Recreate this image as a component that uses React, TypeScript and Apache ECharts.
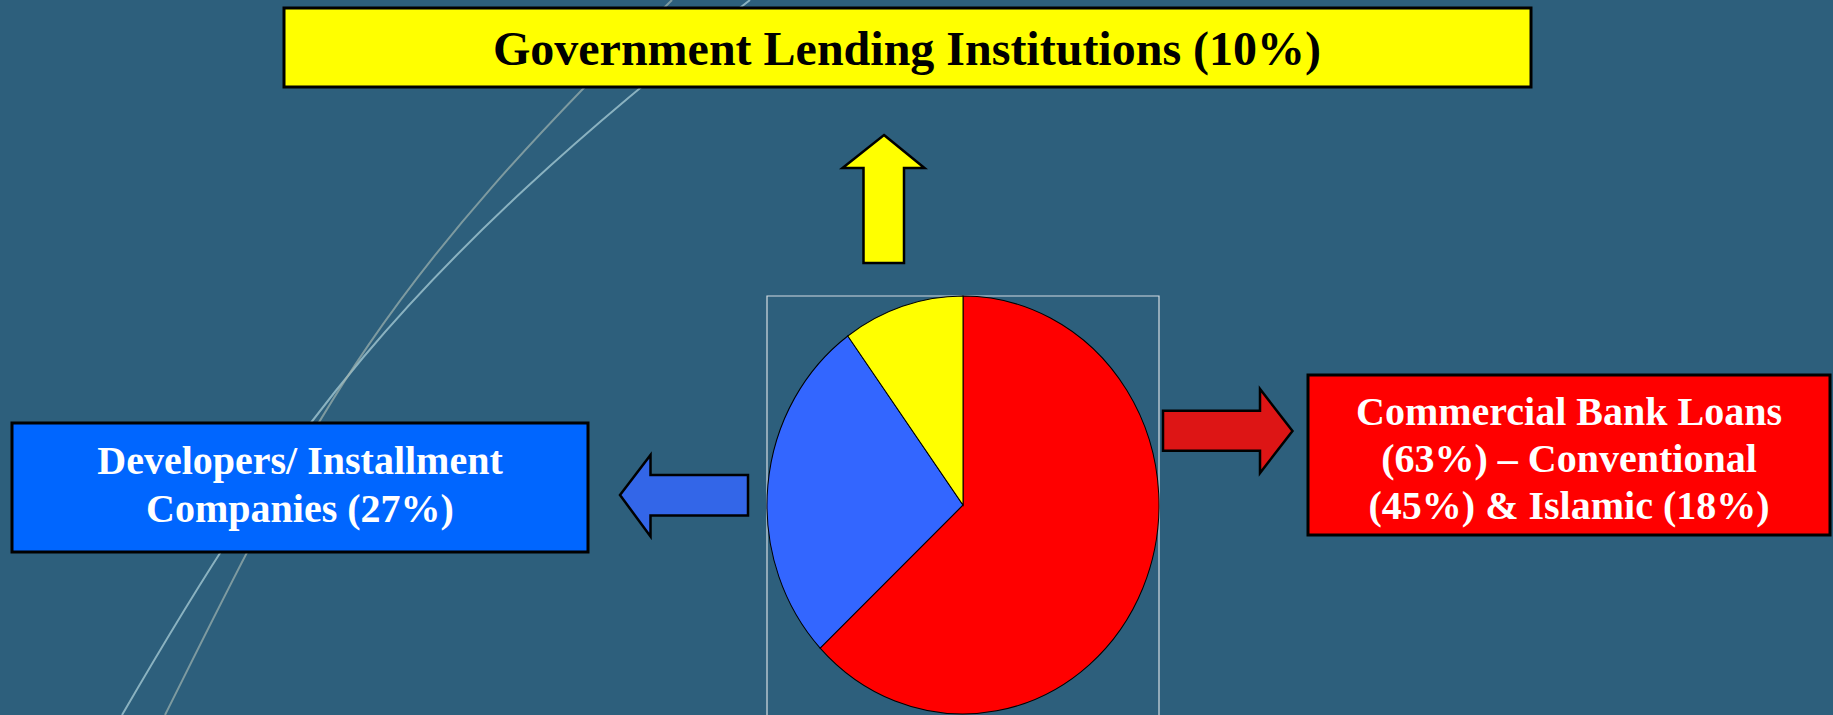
import React, { useEffect, useRef } from "react";
import * as echarts from "echarts";

const categories = ["Commercial Bank Loans", "Developers/ Installment Companies", "Government Lending Institutions"];
const shares = [63, 27, 10];
const sliceColors = ["#FF0000", "#3366FF", "#FFFF00"];
const boxLabels = [
  "Commercial Bank Loans\n(63%) – Conventional\n(45%) & Islamic (18%)",
  "Developers/ Installment\nCompanies (27%)",
  "Government Lending Institutions (10%)",
];

const W = 1833;
const H = 715;
const CX = 963;
const CY = 505;
const RX = 196;
const RY = 209;
const FONT = '"Liberation Serif", "Times New Roman", serif';

export default function App() {
  const ref = useRef<HTMLDivElement>(null);
  useEffect(() => {
    if (!ref.current) return;
    const chart = echarts.init(ref.current, undefined, { renderer: "svg" });
    const total = shares.reduce((a, b) => a + b, 0);
    chart.setOption({
      animation: false,
      backgroundColor: "#2D5F7C",
      series: [
        {
          type: "custom",
          coordinateSystem: "none",
          z: 5,
          data: shares.map((v, i) => ({ name: categories[i], value: v })),
          renderItem: (params: any, api: any) => {
            const i = params.dataIndex;
            let before = 0;
            for (let k = 0; k < i; k++) before += shares[k];
            const v = api.value(0);
            const start = -Math.PI / 2 + (before / total) * 2 * Math.PI;
            const end = start + (v / total) * 2 * Math.PI;
            return {
              type: "sector",
              x: CX,
              y: CY,
              scaleY: RY / RX,
              shape: { cx: 0, cy: 0, r: RX, r0: 0, startAngle: start, endAngle: end, clockwise: true },
              style: { fill: sliceColors[i], stroke: "#000", lineWidth: 1, strokeNoScale: true },
            };
          },
        },
      ],
      graphic: [
        {
          type: "bezierCurve",
          z: 0,
          shape: { x1: 122, y1: 715, cpx1: 281, cpy1: 441, cpx2: 396.5, cpy2: 274, x2: 750, y2: 0 },
          style: { stroke: "rgba(170,205,215,0.75)", lineWidth: 2, fill: null },
        },
        {
          type: "bezierCurve",
          z: 0,
          shape: { x1: 165, y1: 715, cpx1: 312, cpy1: 421, cpx2: 369, cpy2: 294, x2: 672, y2: 0 },
          style: { stroke: "rgba(160,180,175,0.7)", lineWidth: 2, fill: null },
        },
        {
          type: "rect",
          z: 1,
          shape: { x: 767, y: 296, width: 392, height: 430 },
          style: { fill: null, stroke: "#D4DCE2", lineWidth: 1.2 },
        },
        // yellow box
        {
          type: "rect",
          z: 10,
          shape: { x: 284, y: 8, width: 1247, height: 79 },
          style: { fill: "#FFFF00", stroke: "#000", lineWidth: 3 },
        },
        {
          type: "text",
          z: 11,
          x: 907,
          y: 48,
          style: {
            text: boxLabels[2],
            font: `bold 48px ${FONT}`,
            fill: "#000",
            align: "center",
            verticalAlign: "middle",
          },
        },
        // blue box
        {
          type: "rect",
          z: 10,
          shape: { x: 12, y: 423, width: 576, height: 129 },
          style: { fill: "#0066FF", stroke: "#000", lineWidth: 3 },
        },
        {
          type: "text",
          z: 11,
          x: 300,
          y: 484,
          style: {
            text: boxLabels[1],
            font: `bold 40px ${FONT}`,
            lineHeight: 48,
            fill: "#fff",
            align: "center",
            verticalAlign: "middle",
          },
        },
        // red box
        {
          type: "rect",
          z: 10,
          shape: { x: 1308, y: 375, width: 522, height: 160 },
          style: { fill: "#FF0000", stroke: "#000", lineWidth: 3 },
        },
        {
          type: "text",
          z: 11,
          x: 1569,
          y: 458,
          style: {
            text: boxLabels[0],
            font: `bold 40px ${FONT}`,
            lineHeight: 47,
            fill: "#fff",
            align: "center",
            verticalAlign: "middle",
          },
        },
        // arrows
        {
          type: "polygon",
          z: 10,
          shape: { points: [[884, 135], [924.5, 168], [904, 168], [904, 263], [863.5, 263], [863.5, 168], [842.5, 168]] },
          style: { fill: "#FFFF00", stroke: "#000", lineWidth: 2.5 },
        },
        {
          type: "polygon",
          z: 10,
          shape: { points: [[620, 495], [650.5, 455], [650.5, 475], [748, 475], [748, 515.5], [650.5, 515.5], [650.5, 536.5]] },
          style: { fill: "#3366E8", stroke: "#000", lineWidth: 2.5 },
        },
        {
          type: "polygon",
          z: 10,
          shape: { points: [[1292.5, 431], [1260, 389], [1260, 410.7], [1163, 410.7], [1163, 450.7], [1260, 450.7], [1260, 473]] },
          style: { fill: "#DD1515", stroke: "#000", lineWidth: 2.5 },
        },
      ],
    });
    return () => chart.dispose();
  }, []);
  return <div ref={ref} style={{ position: "fixed", left: 0, top: 0, width: W, height: H }} />;
}
